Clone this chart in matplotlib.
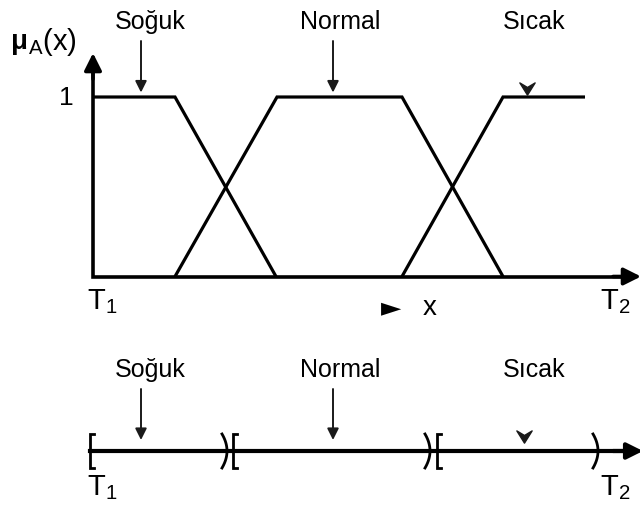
import matplotlib
matplotlib.use('Agg')
import matplotlib.pyplot as plt
from matplotlib.path import Path
import numpy as np

plt.rcParams['font.family'] = ['Liberation Sans', 'DejaVu Sans']
plt.rcParams['mathtext.fontset'] = 'custom'
plt.rcParams['mathtext.rm'] = 'Liberation Sans'

# ---------------- data ----------------
labels = ['Soğuk', 'Normal', 'Sıcak']
# fuzzy membership functions (x measured from T1)
soguk_x = [0, 82, 183]
soguk_mu = [1, 1, 0]
normal_x = [82, 184, 309, 410]
normal_mu = [0, 1, 1, 0]
sicak_x = [309, 410, 492]
sicak_mu = [0, 1, 1]
# crisp intervals  [lo, hi)
crisp_lo = [-3, 140, 344]
crisp_hi = [134, 337, 505]
# label / pointer positions along x
label_x = [57, 247, 441]
pointer_x = [48, 240, 434]
T_labels = ['T$_\\mathregular{1}$', 'T$_\\mathregular{2}$']
T_pos = [-6, 507]

FS = 18
TFS = 21
fig = plt.figure(figsize=(6.4, 5.06), dpi=100)

# chevron marker used for the short "Sıcak" pointer
chevron = Path([(-1, 0.6), (0, -1), (1, 0.6), (0, 0.0), (-1, 0.6)],
               [Path.MOVETO, Path.LINETO, Path.LINETO, Path.LINETO, Path.CLOSEPOLY])

# ---------------- top: fuzzy sets ----------------
ax = fig.add_axes([0, 0, 1, 1])
ax.set_xlim(-93, 547)
ax.set_ylim(-1.273, 1.546)
ax.axis('off')

for xs, ms in [(soguk_x, soguk_mu), (normal_x, normal_mu), (sicak_x, sicak_mu)]:
    ax.plot(xs, ms, color='black', lw=2.3, solid_joinstyle='miter', solid_capstyle='butt')

# axes lines
ax.plot([0, 0, 535], [1.17, 0, 0], color='black', lw=2.6, solid_joinstyle='miter')
ax.annotate('', xy=(0, 1.245), xytext=(0, 1.1), annotation_clip=False,
            arrowprops=dict(arrowstyle='-|>', color='black', lw=2.6,
                            mutation_scale=26, shrinkA=0, shrinkB=0))
ax.annotate('', xy=(548, 0), xytext=(520, 0), annotation_clip=False,
            arrowprops=dict(arrowstyle='-|>', color='black', lw=2.6,
                            mutation_scale=26, shrinkA=0, shrinkB=0))

ax.text(-27, 1.0, '1', ha='center', va='center', fontsize=FS + 1)
ax.text(-65, 1.312, 'μ', ha='right', va='center', fontsize=FS + 2, fontweight='bold')
ax.text(-65, 1.312, '$_\\mathregular{A}$(x)', ha='left', va='center', fontsize=FS + 3)

for lab, lx in zip(labels, label_x):
    ax.text(lx, 1.383, lab, ha='center', va='baseline', fontsize=FS)
for px in pointer_x[:2]:
    ax.annotate('', xy=(px, 1.025), xytext=(px, 1.312), annotation_clip=False,
                arrowprops=dict(arrowstyle='-|>', color='#1a1a1a', lw=1.4,
                                mutation_scale=17, shrinkA=0, shrinkB=0))
ax.plot([pointer_x[2]], [1.058], marker=chevron, markersize=11, color='#1a1a1a',
        linestyle='none')

for tl, tp in zip(T_labels, T_pos):
    ax.text(tp, -0.135, tl, ha='left', va='center', fontsize=TFS)
ax.text(298, -0.17, '►', ha='center', va='center', fontsize=19, family=['DejaVu Sans'])
ax.text(337, -0.17, 'x', ha='center', va='center', fontsize=FS + 2)

# ---------------- bottom: crisp sets ----------------
ax2 = fig.add_axes([0, 0, 1, 1])
ax2.set_xlim(-93, 547)
ax2.set_ylim(-54, 452)
ax2.axis('off')
ax2.patch.set_alpha(0)

ax2.plot([crisp_lo[0], 535], [0, 0], color='black', lw=3.0)
ax2.annotate('', xy=(550, 0), xytext=(520, 0), annotation_clip=False,
             arrowprops=dict(arrowstyle='-|>', color='black', lw=3.0,
                             mutation_scale=24, shrinkA=0, shrinkB=0))

h = 17
t = np.linspace(-1, 1, 21)
for lo in crisp_lo:
    ax2.plot([lo + 4, lo, lo, lo + 4], [h, h, -h, -h], color='black', lw=2.0,
             solid_joinstyle='miter')
for hi in crisp_hi:
    ax2.plot(hi - 5 * t ** 2, h * t, color='black', lw=2.0)

for lab, lx in zip(labels, label_x):
    ax2.text(lx, 75, lab, ha='center', va='baseline', fontsize=FS)
for px in pointer_x[:2]:
    ax2.annotate('', xy=(px, 11), xytext=(px, 62), annotation_clip=False,
                 arrowprops=dict(arrowstyle='-|>', color='#1a1a1a', lw=1.4,
                                 mutation_scale=17, shrinkA=0, shrinkB=0))
ax2.plot([pointer_x[2] - 3], [16], marker=chevron, markersize=11, color='#1a1a1a',
         linestyle='none')
for tl, tp in zip(T_labels, [-6, 507]):
    ax2.text(tp, -36, tl, ha='left', va='center', fontsize=TFS)

fig.savefig('out.png', dpi=100)
